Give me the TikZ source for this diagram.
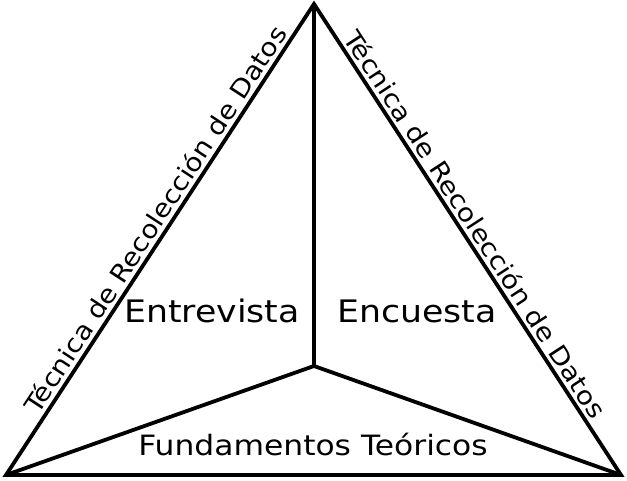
\documentclass[tikz,border=0pt]{standalone}
\usepackage{fontspec}
\setmainfont[FakeStretch=1.12]{DejaVu Sans}
\usetikzlibrary{calc}
\tikzset{
  side/.style={line width=3.8pt, line join=miter},
  area/.style={font=\fontsize{31}{36}\selectfont},
  base/.style={font=\fontsize{28}{33}\selectfont},
  edge/.style={font=\fontsize{25}{30}\selectfont, anchor=south, inner sep=5pt}
}
\begin{document}
\begin{tikzpicture}[x=1pt,y=1pt]
  \useasboundingbox (0,0) rectangle (627,480);
  \coordinate (A) at (314,476);
  \coordinate (L) at (6,5);
  \coordinate (R) at (621,5);
  \coordinate (O) at (314,114);
\draw[side] (L)--(A)--(R)--cycle;
\draw[side] (A)--(O);
\draw[side] (L)--(O)--(R);
\node[edge, rotate=56.8] (izq) at ($(L)!0.525!(A)$) {Técnica de Recolección de Datos};
\node[edge, rotate=-56.9] (der) at ($(A)!0.485!(R)$) {Técnica de Recolección de Datos};
\node[area] (entrevista) at (212,169) {Entrevista};
\node[area] (encuesta) at (417,169) {Encuesta};
\node[base] (fundamentos) at (313,36) {Fundamentos Teóricos};
\end{tikzpicture}
\end{document}
